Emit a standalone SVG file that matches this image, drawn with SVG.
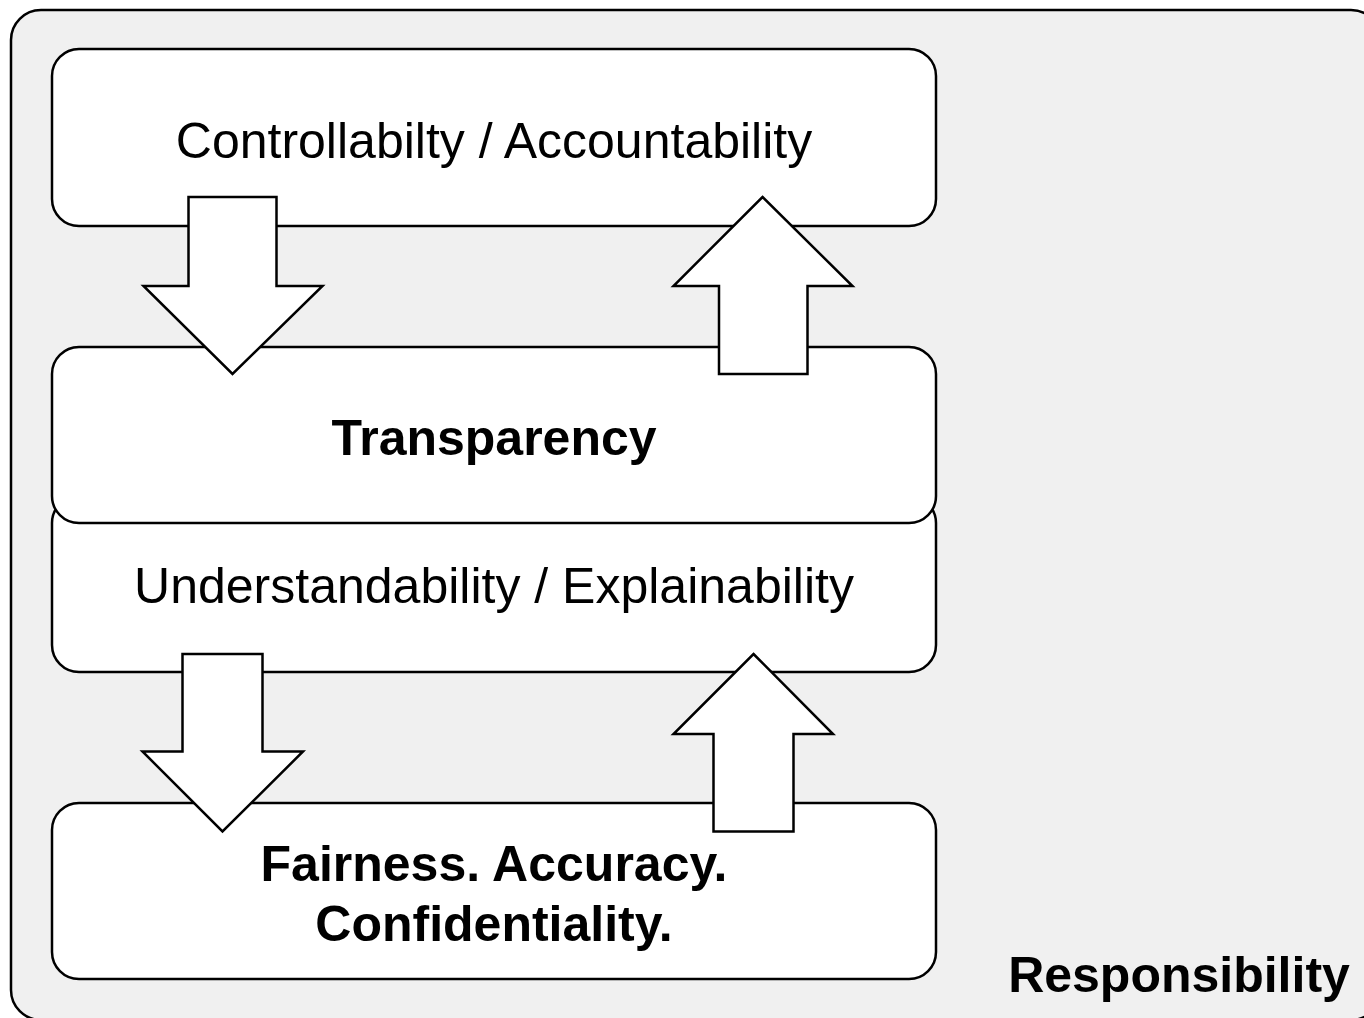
<svg xmlns="http://www.w3.org/2000/svg" width="1364" height="1018" viewBox="0 0 1364 1018">
<style>
.box{fill:#ffffff;stroke:#000000;stroke-width:2.5}
.arr{fill:#ffffff;stroke:#000000;stroke-width:2.5;stroke-linejoin:miter}
.t{font-family:"Liberation Sans",Arial,sans-serif;font-size:50px;fill:#000000;text-anchor:middle}
.b{font-weight:bold}
</style>
<rect width="1364" height="1018" fill="#ffffff"/>
<g id="responsibility">
<rect x="11" y="10" width="1370" height="1010" rx="30" fill="#f0f0f0" stroke="#000000" stroke-width="2.5"/>
<text class="t b" x="1179" y="992">Responsibility</text>
</g>
<g id="controllability">
<rect class="box" x="52" y="49" width="884" height="177" rx="27"/>
<text class="t" x="494" y="158">Controllabilty / Accountability</text>
</g>
<g id="understandability">
<rect class="box" x="52" y="496" width="884" height="176" rx="27"/>
<text class="t" x="494" y="603">Understandability / Explainability</text>
</g>
<g id="transparency">
<rect class="box" x="52" y="347" width="884" height="176" rx="27"/>
<text class="t b" x="494" y="455">Transparency</text>
</g>
<g id="fairness">
<rect class="box" x="52" y="803" width="884" height="176" rx="27"/>
<text class="t b" x="494" y="881">Fairness. Accuracy.</text>
<text class="t b" x="494" y="941">Confidentiality.</text>
</g>
<g id="connectors">
<polygon class="arr" points="188.5,197 276.5,197 276.5,286 322.5,286 232.5,374 143.5,286 188.5,286"/>
<polygon class="arr" points="762.5,197 852.5,286 807.5,286 807.5,374 719,374 719,286 673.5,286"/>
<polygon class="arr" points="182.5,654 262.5,654 262.5,751.5 303,751.5 222.5,831.5 142.5,751.5 182.5,751.5"/>
<polygon class="arr" points="753.5,654 833,734 793.5,734 793.5,831.5 713.5,831.5 713.5,734 673.5,734"/>
</g>
</svg>
